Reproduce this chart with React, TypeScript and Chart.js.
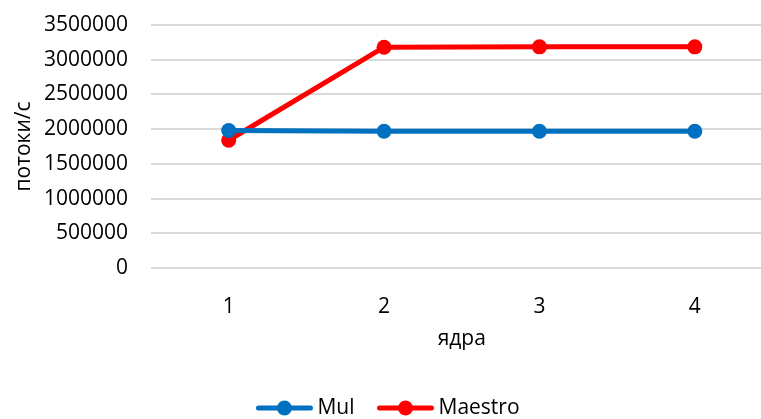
import React, { useEffect, useRef } from "react";
import { Chart, registerables } from "chart.js";

Chart.register(...registerables);

// Number of cores on the x axis
const cores = ["1", "2", "3", "4"];
// Throughput, streams per second
const mulValues = [1980000, 1970000, 1970000, 1970000];
const maestroValues = [1840000, 3180000, 3185000, 3185000];
// y axis ticks
const yMin = 0;
const yMax = 3500000;
const yStep = 500000;

const FONT = "'Open Sans', 'DejaVu Sans', sans-serif";
const FONT_SIZE = 21;
const TEXT_COLOR = "#000000";

// Draws the line-and-marker legend centred under the axis titles
const lineLegend = {
  id: "lineLegend",
  afterDraw(chart: any) {
    const ctx = chart.ctx as CanvasRenderingContext2D;
    const sets = chart.data.datasets as any[];
    const lineLen = 56;
    const textGap = 5;
    const itemGap = 23;
    const cy = 408;
    ctx.save();
    ctx.font = `${FONT_SIZE}px ${FONT}`;
    const widths = sets.map((d) => lineLen + textGap + ctx.measureText(d.label).width);
    const total = widths.reduce((a, b) => a + b, 0) + itemGap * (sets.length - 1);
    let x = 388 - total / 2;
    sets.forEach((d, i) => {
      ctx.strokeStyle = d.borderColor;
      ctx.lineWidth = 5;
      ctx.lineCap = "round";
      ctx.beginPath();
      ctx.moveTo(x + 2, cy);
      ctx.lineTo(x + lineLen - 2, cy);
      ctx.stroke();
      ctx.fillStyle = d.backgroundColor;
      ctx.beginPath();
      ctx.arc(x + lineLen / 2, cy, 7.5, 0, Math.PI * 2);
      ctx.fill();
      ctx.fillStyle = TEXT_COLOR;
      ctx.textBaseline = "middle";
      ctx.textAlign = "left";
      ctx.fillText(d.label, x + lineLen + textGap, cy);
      x += widths[i] + itemGap;
    });
    ctx.restore();
  },
};

export default function App() {
  const canvasRef = useRef<HTMLCanvasElement | null>(null);

  useEffect(() => {
    const canvas = canvasRef.current;
    if (!canvas) return;
    const chart = new Chart(canvas, {
      type: "line",
      data: {
        labels: cores,
        datasets: [
          {
            label: "Mul",
            data: mulValues,
            borderColor: "#0070C0",
            backgroundColor: "#0070C0",
            borderWidth: 5,
            pointRadius: 7.5,
            pointBorderWidth: 0,
            pointHoverRadius: 7.5,
            tension: 0,
          },
          {
            label: "Maestro",
            data: maestroValues,
            borderColor: "#FF0000",
            backgroundColor: "#FF0000",
            borderWidth: 5,
            pointRadius: 7.5,
            pointBorderWidth: 0,
            pointHoverRadius: 7.5,
            tension: 0,
          },
        ],
      },
      options: {
        responsive: false,
        animation: false,
        events: [],
        layout: { padding: { top: 25, left: 0, right: 0, bottom: 0 } },
        plugins: {
          legend: { display: false },
          tooltip: { enabled: false },
        },
        scales: {
          x: {
            type: "category",
            offset: true,
            grid: { display: false, drawTicks: false },
            border: { display: false },
            ticks: {
              padding: 26,
              color: TEXT_COLOR,
              font: { family: FONT, size: FONT_SIZE },
            },
            title: {
              display: true,
              text: "ядра",
              color: TEXT_COLOR,
              font: { family: FONT, size: FONT_SIZE },
              padding: { top: 0, bottom: 67 },
            },
            afterFit(scale: any) {
              scale.height = 151;
            },
          },
          y: {
            min: yMin,
            max: yMax,
            grid: { color: "#d9d9d9", lineWidth: 2, drawTicks: false },
            border: { display: false },
            ticks: {
              stepSize: yStep,
              padding: 23,
              color: TEXT_COLOR,
              font: { family: FONT, size: FONT_SIZE },
              callback: (v: any) => String(v),
            },
            title: {
              display: true,
              text: "потоки/с",
              color: TEXT_COLOR,
              font: { family: FONT, size: FONT_SIZE },
              padding: { top: 11, bottom: 0 },
            },
            afterFit(scale: any) {
              scale.width = 151;
              scale.paddingTop = 0;
              scale.paddingBottom = 0;
            },
          },
        },
      },
      plugins: [lineLegend],
    });
    return () => chart.destroy();
  }, []);

  return (
    <div
      style={{
        position: "fixed",
        left: 0,
        top: 0,
        width: 761,
        height: 419,
        overflow: "hidden",
        background: "#ffffff",
      }}
    >
      <canvas ref={canvasRef} width={780} height={419} style={{ display: "block" }} />
    </div>
  );
}
